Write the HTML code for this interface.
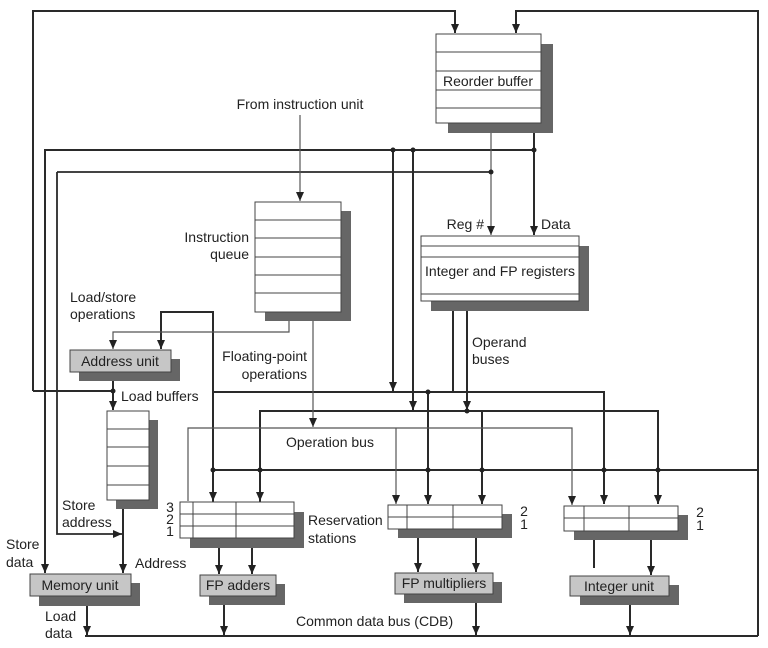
<!DOCTYPE html>
<html><head><meta charset="utf-8"><style>
html,body{margin:0;padding:0;background:#fff}
svg{display:block}
text{font-family:"Liberation Sans",sans-serif;font-size:14px;fill:#222}
</style></head><body>
<svg width="768" height="648" viewBox="0 0 768 648" xmlns="http://www.w3.org/2000/svg">
<defs>
<marker id="a" markerUnits="userSpaceOnUse" markerWidth="9" markerHeight="8" refX="9" refY="4" orient="auto-start-reverse" viewBox="0 0 9 8"><path d="M0,0 L9,4 L0,8 Z" fill="#222"/></marker>
</defs>
<g fill="none" stroke="#2a2a2a" stroke-width="2">
<polyline points="33,391 33,11 455,11 455,33" marker-end="url(#a)"/>
<polyline points="758,470 758,11 516,11 516,33" marker-end="url(#a)"/>
<line x1="758" y1="470" x2="758" y2="636"/>
<line x1="85" y1="636" x2="758" y2="636"/>
<line x1="33" y1="391" x2="113" y2="391"/>
<line x1="213" y1="470" x2="758" y2="470"/>
<line x1="534" y1="123" x2="534" y2="235" marker-end="url(#a)"/>
<polyline points="45,573 45,150 534,150" marker-start="url(#a)"/>
<polyline points="57,172 491,172" stroke-width="1.8"/>
<polyline points="57,172 57,534 122,534" stroke-width="1.8" marker-end="url(#a)"/>
<line x1="393" y1="150" x2="393" y2="391" marker-end="url(#a)"/>
<line x1="413" y1="150" x2="413" y2="410" marker-end="url(#a)"/>
<polyline points="213,502 213,312 161,312 161,349" marker-end="url(#a)"/>
<polyline points="213,392 604,392 604,504" marker-end="url(#a)"/>
<polyline points="260,502 260,411 658,411 658,504" marker-end="url(#a)"/>
<line x1="260" y1="411" x2="260" y2="501" marker-end="url(#a)"/>
<line x1="213" y1="411" x2="213" y2="501" marker-end="url(#a)"/>
<line x1="428" y1="392" x2="428" y2="504" marker-end="url(#a)"/>
<line x1="482" y1="411" x2="482" y2="504" marker-end="url(#a)"/>
<line x1="453" y1="301" x2="453" y2="392"/>
<line x1="467" y1="301" x2="467" y2="410" marker-end="url(#a)"/>
<line x1="113" y1="372" x2="113" y2="410" marker-end="url(#a)"/>
<line x1="123" y1="500" x2="123" y2="573" marker-end="url(#a)"/>
<line x1="87" y1="596" x2="87" y2="635" marker-end="url(#a)"/>
<line x1="219" y1="538" x2="219" y2="574" marker-end="url(#a)"/>
<line x1="252" y1="538" x2="252" y2="574" marker-end="url(#a)"/>
<line x1="224" y1="596" x2="224" y2="635" marker-end="url(#a)"/>
<line x1="418" y1="529" x2="418" y2="572" marker-end="url(#a)"/>
<line x1="476" y1="529" x2="476" y2="572" marker-end="url(#a)"/>
<line x1="476" y1="594" x2="476" y2="635" marker-end="url(#a)"/>
<line x1="594" y1="531" x2="594" y2="568"/>
<line x1="651" y1="531" x2="651" y2="575" marker-end="url(#a)"/>
<line x1="630" y1="596" x2="630" y2="635" marker-end="url(#a)"/>
</g>
<g fill="none" stroke="#555" stroke-width="1.2">
<line x1="491" y1="123" x2="491" y2="235" marker-end="url(#a)"/>
<line x1="300" y1="115" x2="300" y2="201" marker-end="url(#a)"/>
<polyline points="289,312 289,332 113,332 113,349" marker-end="url(#a)"/>
<line x1="313" y1="312" x2="313" y2="427" marker-end="url(#a)"/>
<polyline points="188,501 188,428 572,428 572,505" marker-end="url(#a)"/>
<line x1="396" y1="428" x2="396" y2="504" marker-end="url(#a)"/>
</g>
<g fill="#222">
<circle cx="534" cy="150" r="2.5"/><circle cx="393" cy="150" r="2.5"/><circle cx="413" cy="150" r="2.5"/>
<circle cx="491" cy="172" r="2.5"/><circle cx="113" cy="391" r="2.5"/><circle cx="428" cy="392" r="2.5"/>
<circle cx="467" cy="411" r="2.5"/>
<circle cx="213" cy="470" r="2.5"/><circle cx="260" cy="470" r="2.5"/><circle cx="428" cy="470" r="2.5"/>
<circle cx="482" cy="470" r="2.5"/><circle cx="604" cy="470" r="2.5"/><circle cx="658" cy="470" r="2.5"/>
</g>
<g stroke="#444" stroke-width="1">
<rect x="448" y="44" width="105" height="89" fill="#666" stroke="none"/>
<rect x="436" y="34" width="105" height="89" fill="#fff"/>
<path d="M436,52H541M436,71H541M436,90H541M436,108H541"/>
<rect x="265" y="211" width="86" height="110" fill="#666" stroke="none"/>
<rect x="255" y="202" width="86" height="110" fill="#fff"/>
<path d="M255,220H341M255,238H341M255,257H341M255,275H341M255,293H341"/>
<rect x="431" y="246" width="158" height="65" fill="#666" stroke="none"/>
<rect x="421" y="236" width="158" height="65" fill="#fff"/>
<path d="M421,246H579M421,257H579M421,294H579"/>
<rect x="79" y="359" width="101" height="22" fill="#666" stroke="none"/>
<rect x="70" y="350" width="101" height="22" fill="#c6c6c6"/>
<rect x="116" y="420" width="42" height="89" fill="#666" stroke="none"/>
<rect x="107" y="411" width="42" height="89" fill="#fff"/>
<path d="M107,429H149M107,447H149M107,466H149M107,485H149"/>
<rect x="39" y="583" width="101" height="23" fill="#666" stroke="none"/>
<rect x="30" y="574" width="101" height="22" fill="#c6c6c6"/>
<rect x="190" y="512" width="114" height="36" fill="#666" stroke="none"/>
<rect x="180" y="502" width="114" height="36" fill="#fff"/>
<path d="M180,514H294M180,526H294M193,502V538M236,502V538"/>
<rect x="209" y="584" width="76" height="21" fill="#666" stroke="none"/>
<rect x="200" y="575" width="76" height="21" fill="#c6c6c6"/>
<rect x="398" y="514" width="114" height="24" fill="#666" stroke="none"/>
<rect x="388" y="505" width="114" height="24" fill="#fff"/>
<path d="M388,517H502M407,505V529M453,505V529"/>
<rect x="404" y="582" width="98" height="21" fill="#666" stroke="none"/>
<rect x="395" y="573" width="98" height="21" fill="#c6c6c6"/>
<rect x="574" y="515" width="114" height="25" fill="#666" stroke="none"/>
<rect x="564" y="506" width="114" height="25" fill="#fff"/>
<path d="M564,518H678M584,506V531M629,506V531"/>
<rect x="580" y="585" width="99" height="20" fill="#666" stroke="none"/>
<rect x="570" y="576" width="99" height="20" fill="#c6c6c6"/>
</g>
<text x="488" y="86" text-anchor="middle">Reorder buffer</text>
<text x="300" y="109" text-anchor="middle">From instruction unit</text>
<text x="249" y="242" text-anchor="end">Instruction</text>
<text x="249" y="259" text-anchor="end">queue</text>
<text x="484" y="229" text-anchor="end">Reg #</text>
<text x="541" y="229">Data</text>
<text x="500" y="276" text-anchor="middle">Integer and FP registers</text>
<text x="70" y="302">Load/store</text>
<text x="70" y="319">operations</text>
<text x="120" y="366" text-anchor="middle">Address unit</text>
<text x="307" y="361" text-anchor="end">Floating-point</text>
<text x="307" y="379" text-anchor="end">operations</text>
<text x="472" y="347">Operand</text>
<text x="472" y="364">buses</text>
<text x="121" y="401">Load buffers</text>
<text x="286" y="447">Operation bus</text>
<text x="62" y="510">Store</text>
<text x="62" y="527">address</text>
<text x="6" y="549">Store</text>
<text x="6" y="567">data</text>
<text x="135" y="568">Address</text>
<text x="170" y="512" text-anchor="middle">3</text>
<text x="170" y="524" text-anchor="middle">2</text>
<text x="170" y="536" text-anchor="middle">1</text>
<text x="308" y="525">Reservation</text>
<text x="308" y="543">stations</text>
<text x="524" y="516" text-anchor="middle">2</text>
<text x="524" y="529" text-anchor="middle">1</text>
<text x="700" y="517" text-anchor="middle">2</text>
<text x="700" y="530" text-anchor="middle">1</text>
<text x="80" y="590" text-anchor="middle">Memory unit</text>
<text x="238" y="590" text-anchor="middle">FP adders</text>
<text x="444" y="588" text-anchor="middle">FP multipliers</text>
<text x="619" y="591" text-anchor="middle">Integer unit</text>
<text x="45" y="621">Load</text>
<text x="45" y="638">data</text>
<text x="296" y="626">Common data bus (CDB)</text>
</svg>
</body></html>
